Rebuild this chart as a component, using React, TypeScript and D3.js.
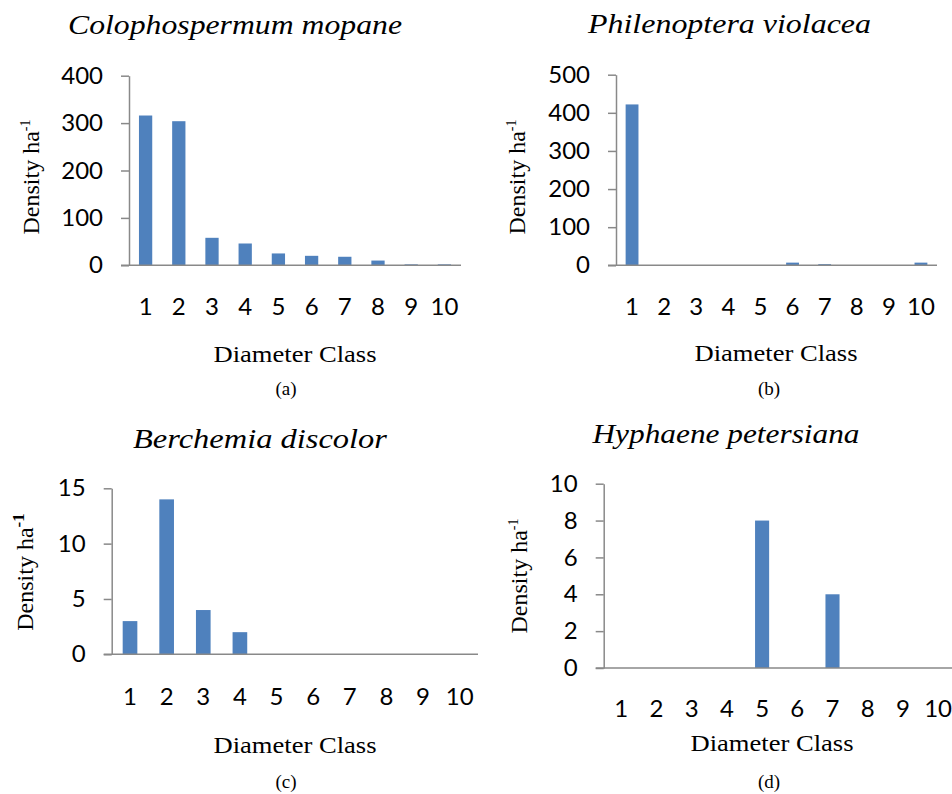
import React, { useRef, useEffect } from "react";
import * as d3 from "d3";

// diameter classes shared by all four panels
const diameterClasses = ["1", "2", "3", "4", "5", "6", "7", "8", "9", "10"];

// density per ha
const mopaneDensity = [316, 304, 58, 46, 25, 20, 18, 10, 2, 2];
const violaceaDensity = [422, 0, 0, 0, 0, 7, 3, 0, 0, 7];
const discolorDensity = [3, 14, 4, 2, 0, 0, 0, 0, 0, 0];
const petersianaDensity = [0, 0, 0, 0, 8, 0, 4, 0, 0, 0];

// y axis ticks
const mopaneTicks = [0, 100, 200, 300, 400];
const violaceaTicks = [0, 100, 200, 300, 400, 500];
const discolorTicks = [0, 5, 10, 15];
const petersianaTicks = [0, 2, 4, 6, 8, 10];

const BAR = "#4F81BD";
const AXIS = "#898989";
const SERIF = "Liberation Serif";
const SANS = "Lato";

const panels = [
  {
    title: "Colophospermum mopane", caption: "(a)", values: mopaneDensity, ticks: mopaneTicks,
    left: 129, right: 461, top: 75.7, bottom: 265.3,
    titleX: 235, titleY: 34, titleW: 334,
    xTickY: 315, xLabelX: 295, xLabelY: 362, capX: 286, capY: 395,
    yLabelX: 39, yLabelY: 177, boldSup: false,
  },
  {
    title: "Philenoptera violacea", caption: "(b)", values: violaceaDensity, ticks: violaceaTicks,
    left: 616, right: 937, top: 74.7, bottom: 265.3,
    titleX: 729.5, titleY: 33, titleW: 283,
    xTickY: 315, xLabelX: 776, xLabelY: 361, capX: 769, capY: 395,
    yLabelX: 525, yLabelY: 177, boldSup: false,
  },
  {
    title: "Berchemia discolor", caption: "(c)", values: discolorDensity, ticks: discolorTicks,
    left: 111.7, right: 478, top: 488.3, bottom: 654.3,
    titleX: 260, titleY: 448, titleW: 254,
    xTickY: 705, xLabelX: 295, xLabelY: 753, capX: 286, capY: 788,
    yLabelX: 33, yLabelY: 572, boldSup: true,
  },
  {
    title: "Hyphaene petersiana", caption: "(d)", values: petersianaDensity, ticks: petersianaTicks,
    left: 603.7, right: 955.7, top: 483.7, bottom: 668,
    titleX: 726, titleY: 443, titleW: 267,
    xTickY: 717, xLabelX: 772, xLabelY: 751, capX: 769, capY: 788,
    yLabelX: 527, yLabelY: 576, boldSup: false,
  },
];

const App = () => {
  const ref = useRef<SVGSVGElement>(null);

  useEffect(() => {
    const svg = d3.select(ref.current);
    svg.selectAll("*").remove();

    panels.forEach((p) => {
      const g = svg.append("g");
      const x = d3.scaleBand().domain(diameterClasses).range([p.left, p.right]).padding(0);
      const y = d3
        .scaleLinear()
        .domain([0, p.ticks[p.ticks.length - 1]])
        .range([p.bottom, p.top]);
      const barW = x.bandwidth() * 0.4;

      // bars
      g.selectAll("rect")
        .data(p.values)
        .enter()
        .append("rect")
        .attr("x", (d, i) => x(diameterClasses[i])! + (x.bandwidth() - barW) / 2)
        .attr("y", (d) => y(d))
        .attr("width", barW)
        .attr("height", (d) => y(0) - y(d))
        .attr("fill", BAR);

      // y axis
      const yAxis = d3.axisLeft(y).tickValues(p.ticks).tickSize(8).tickSizeOuter(0).tickPadding(18);
      const ya = g.append("g").attr("transform", `translate(${p.left},0)`).call(yAxis);
      ya.select(".domain").attr("stroke", AXIS).attr("stroke-width", 1.5);
      ya.selectAll(".tick line").attr("stroke", AXIS).attr("stroke-width", 1.5);
      ya.selectAll(".tick text")
        .attr("fill", "#000")
        .attr("font-family", SANS)
        .attr("font-size", 24);

      // baseline
      g.append("line")
        .attr("x1", p.left - 8)
        .attr("x2", p.right)
        .attr("y1", y(0))
        .attr("y2", y(0))
        .attr("stroke", AXIS)
        .attr("stroke-width", 1.5);

      // x tick labels
      g.selectAll("text.xt")
        .data(diameterClasses)
        .enter()
        .append("text")
        .attr("class", "xt")
        .attr("x", (d) => x(d)! + x.bandwidth() / 2)
        .attr("y", p.xTickY)
        .attr("text-anchor", "middle")
        .attr("font-family", SANS)
        .attr("font-size", 24)
        .text((d) => d);

      // title
      g.append("text")
        .attr("x", p.titleX)
        .attr("y", p.titleY)
        .attr("text-anchor", "middle")
        .attr("textLength", p.titleW)
        .attr("lengthAdjust", "spacingAndGlyphs")
        .attr("font-family", SERIF)
        .attr("font-style", "italic")
        .attr("font-size", 28)
        .text(p.title);

      // x label
      g.append("text")
        .attr("x", p.xLabelX)
        .attr("y", p.xLabelY)
        .attr("text-anchor", "middle")
        .attr("textLength", 163)
        .attr("lengthAdjust", "spacingAndGlyphs")
        .attr("font-family", SERIF)
        .attr("font-size", 24)
        .text("Diameter Class");

      // caption
      g.append("text")
        .attr("x", p.capX)
        .attr("y", p.capY)
        .attr("text-anchor", "middle")
        .attr("font-family", SERIF)
        .attr("font-size", 19)
        .text(p.caption);

      // y label
      const yl = g
        .append("text")
        .attr("transform", `translate(${p.yLabelX},${p.yLabelY}) rotate(-90)`)
        .attr("text-anchor", "middle")
        .attr("font-family", SERIF)
        .attr("font-size", 24);
      yl.append("tspan").text("Density ha");
      yl.append("tspan")
        .attr("dy", -9)
        .attr("font-size", p.boldSup ? 17 : 14)
        .attr("font-weight", p.boldSup ? "bold" : "normal")
        .text("-1");
    });
  }, []);

  return (
    <div style={{ position: "absolute", left: 0, top: 0, background: "#fff" }}>
      <svg ref={ref} width={952} height={794} style={{ display: "block" }}></svg>
    </div>
  );
};

export default App;
